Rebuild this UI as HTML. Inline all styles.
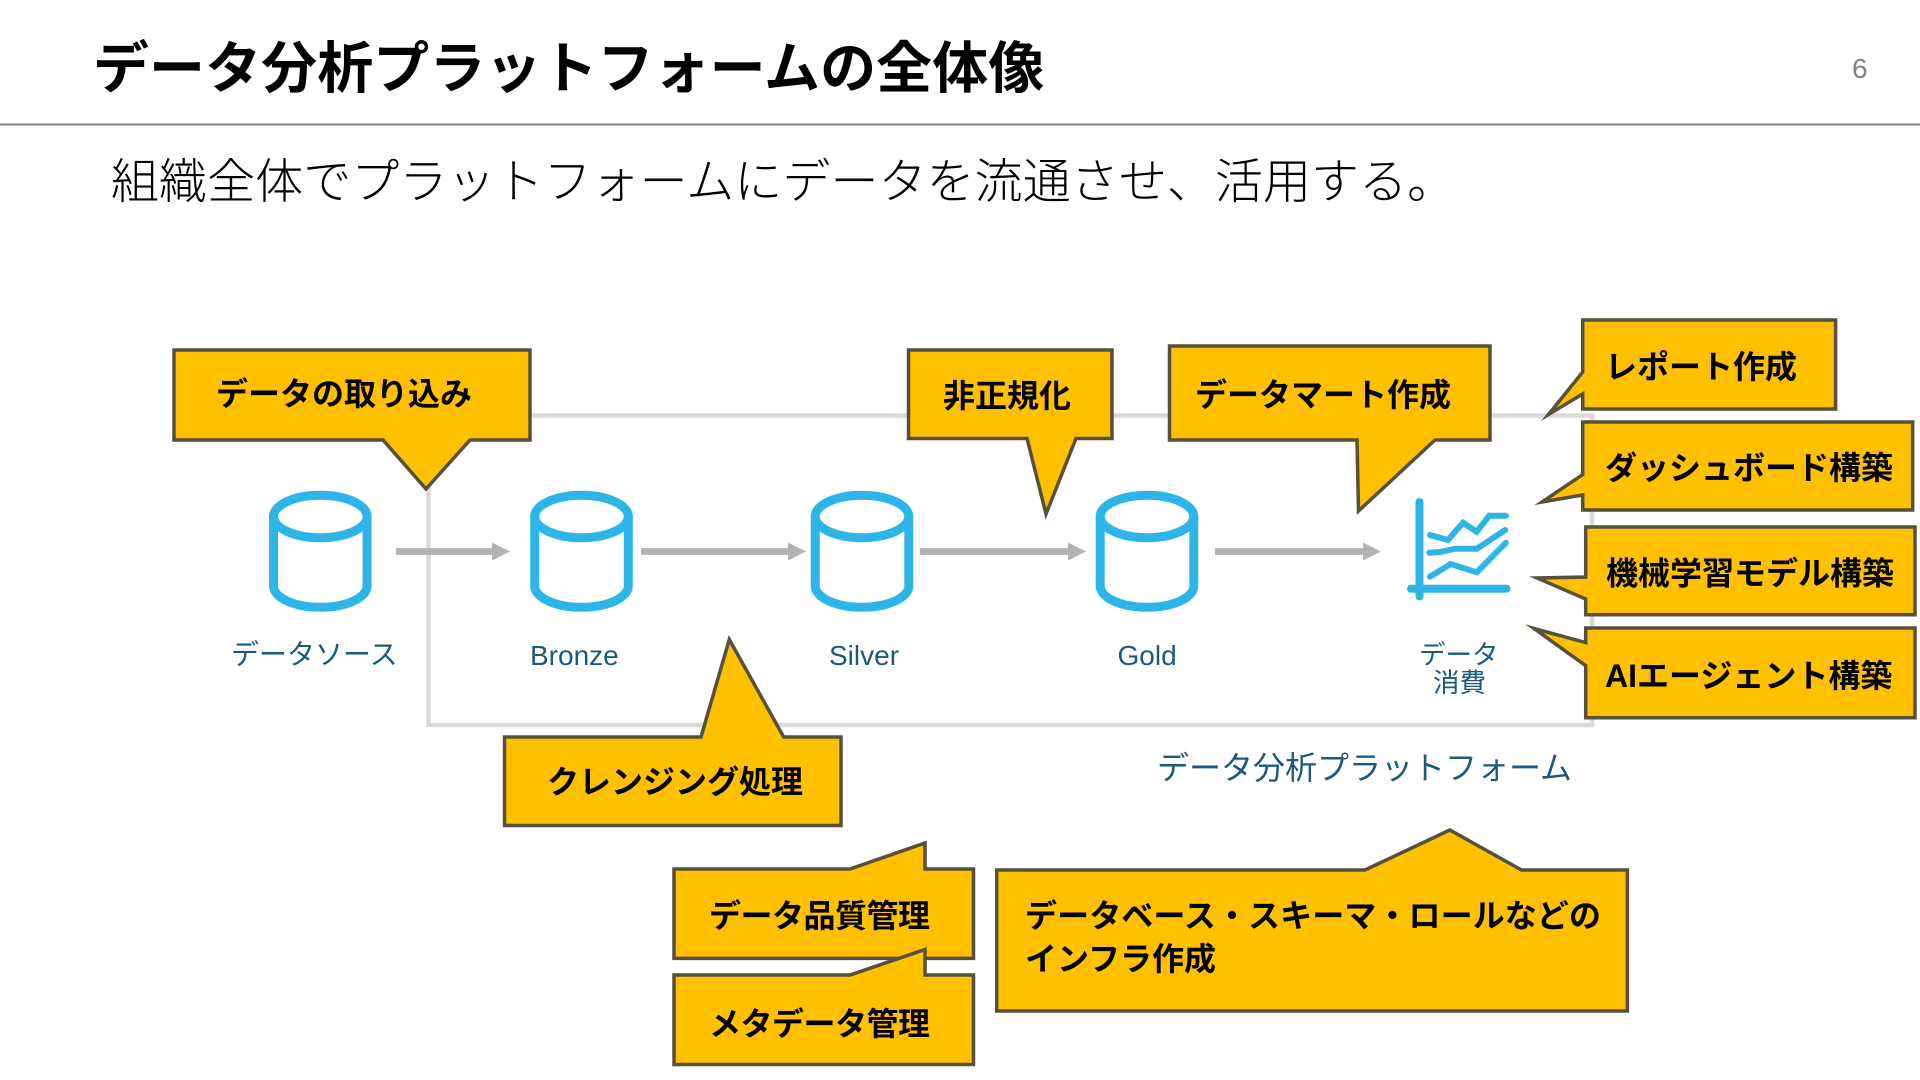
<!DOCTYPE html>
<html lang="ja">
<head>
<meta charset="utf-8">
<style>
html,body{margin:0;padding:0;background:#fff;width:1920px;height:1080px;overflow:hidden}
svg{display:block}
text{font-family:"Liberation Sans","Noto Sans CJK JP",sans-serif}
.c{font-weight:700;font-size:32px;fill:#000}
.l{font-size:28px;fill:#1a5a80}
.co{fill:#FFC000;stroke:#57503a;stroke-width:3.5;stroke-linejoin:miter;stroke-miterlimit:30}
.cyl{fill:none;stroke:#2eb5e8;stroke-width:9}
.arr{stroke:#b3b3b3;stroke-width:6.7;fill:none}
.head{fill:#b3b3b3}
.ch{fill:none;stroke:#2eb5e8;stroke-width:6;stroke-linecap:round;stroke-linejoin:miter}
</style>
</head>
<body>
<svg xmlns="http://www.w3.org/2000/svg" width="1920" height="1080" viewBox="0 0 1920 1080">
<rect width="1920" height="1080" fill="#fff"/>
<line x1="0" y1="124.5" x2="1920" y2="124.5" stroke="#808080" stroke-width="2"/>
<text x="93" y="88" font-size="56" font-weight="700" fill="#000" style="letter-spacing:.06px">データ分析プラットフォームの全体像</text>
<text x="1852" y="78" font-size="28" fill="#808080">6</text>
<text x="111" y="198" font-size="48" font-weight="300" fill="#000" style="letter-spacing:.06px">組織全体でプラットフォームにデータを流通させ、活用する。</text>

<rect x="428.5" y="415.5" width="1163.5" height="309.5" fill="none" stroke="#d9d9d9" stroke-width="4.5"/>

<g id="cyls" class="cyl">
<ellipse cx="320.3" cy="516.5" rx="46.8" ry="21.2"/><path d="M273.5 516.5V586A46.8 21.3 0 0 0 367.1 586V516.5"/>
<ellipse cx="581.5" cy="516.5" rx="46.8" ry="21.2"/><path d="M534.7 516.5V586A46.8 21.3 0 0 0 628.3 586V516.5"/>
<ellipse cx="862" cy="516.5" rx="46.8" ry="21.2"/><path d="M815.2 516.5V586A46.8 21.3 0 0 0 908.8 586V516.5"/>
<ellipse cx="1147" cy="516.5" rx="46.8" ry="21.2"/><path d="M1100.2 516.5V586A46.8 21.3 0 0 0 1193.8 586V516.5"/>
</g>

<line class="arr" x1="396" y1="551.5" x2="494" y2="551.5"/><polygon class="head" points="492,542.5 510,551.5 492,560.5"/>
<line class="arr" x1="641" y1="551.5" x2="789" y2="551.5"/><polygon class="head" points="788,542.5 806,551.5 788,560.5"/>
<line class="arr" x1="920" y1="551.5" x2="1069" y2="551.5"/><polygon class="head" points="1068,542.5 1086,551.5 1068,560.5"/>
<line class="arr" x1="1215" y1="551.5" x2="1364" y2="551.5"/><polygon class="head" points="1363,542.5 1381,551.5 1363,560.5"/>

<g>
<line x1="1419.5" y1="502" x2="1419.5" y2="596.5" stroke="#2eb5e8" stroke-width="8" stroke-linecap="round"/>
<line x1="1411" y1="588.7" x2="1506.5" y2="588.7" stroke="#2eb5e8" stroke-width="8" stroke-linecap="round"/>
<polyline class="ch" points="1430,535 1448,540 1463,522.7 1476.7,531.7 1489.3,515.7 1506,515.7"/>
<polyline class="ch" points="1429.3,552.7 1440,552 1455,548.7 1476.7,548.7 1505.3,530"/>
<polyline class="ch" points="1430,576.7 1450.7,564 1476.7,572.3 1506,542.7"/>
</g>

<text class="l" x="231" y="664">データソース</text>
<text class="l" x="530" y="665">Bronze</text>
<text class="l" x="829" y="665">Silver</text>
<text class="l" x="1117.5" y="665">Gold</text>
<text class="l" x="1419" y="664" style="font-size:26.5px">データ</text>
<text class="l" x="1433" y="692" style="font-size:26.5px">消費</text>
<text class="l" x="1157" y="779" style="font-size:32px">データ分析プラットフォーム</text>

<polygon class="co" points="174,350 530,350 530,440 470,440 426,489 383,440 174,440"/>
<text class="c" x="216" y="405">データの取り込み</text>

<polygon class="co" points="908.5,350 1112,350 1112,438.5 1076,438.5 1046,514 1027,438.5 908.5,438.5"/>
<text class="c" x="943" y="407">非正規化</text>

<polygon class="co" points="1169.5,346 1490,346 1490,440 1435,440 1358.5,511 1357,440 1169.5,440"/>
<text class="c" x="1195" y="406">データマート作成</text>

<polygon class="co" points="1582.7,320 1835.6,320 1835.6,409 1582.7,409 1582.7,394 1548.5,414.5 1582.7,372"/>
<text class="c" x="1605" y="378">レポート作成</text>

<polygon class="co" points="1582.7,422 1912.7,422 1912.7,510 1582.7,510 1582.7,495 1542,502 1582.7,474.6"/>
<text class="c" x="1605" y="479">ダッシュボード構築</text>

<polygon class="co" points="1585.7,527 1915,527 1915,614.7 1585.7,614.7 1585.7,599 1537,578 1585.7,577"/>
<text class="c" x="1606" y="584.5">機械学習モデル構築</text>

<polygon class="co" points="1585.7,628 1915,628 1915,717.7 1585.7,717.7 1585.7,665.7 1534,628.5 1585.7,642.6"/>
<text class="c" x="1605" y="687">AIエージェント構築</text>

<polygon class="co" points="504.5,737 701,737 729.3,639.5 783.7,737 841,737 841,825.5 504.5,825.5"/>
<text class="c" x="547" y="793">クレンジング処理</text>

<polygon class="co" points="674,869 850,869 925,843 925,869 973.5,869 973.5,958.4 674,958.4"/>
<text class="c" x="709" y="927" textLength="221">データ品質管理</text>

<polygon class="co" points="674,975 850,975 925,949.5 925,975 973.5,975 973.5,1064.5 674,1064.5"/>
<text class="c" x="709" y="1035" textLength="221">メタデータ管理</text>

<polygon class="co" points="996.7,870 1365,870 1449.8,830 1521.5,870 1627.4,870 1627.4,1011 996.7,1011"/>
<text class="c" x="1025" y="927" textLength="576">データベース・スキーマ・ロールなどの</text>
<text class="c" x="1025" y="970">インフラ作成</text>
</svg>
</body>
</html>
